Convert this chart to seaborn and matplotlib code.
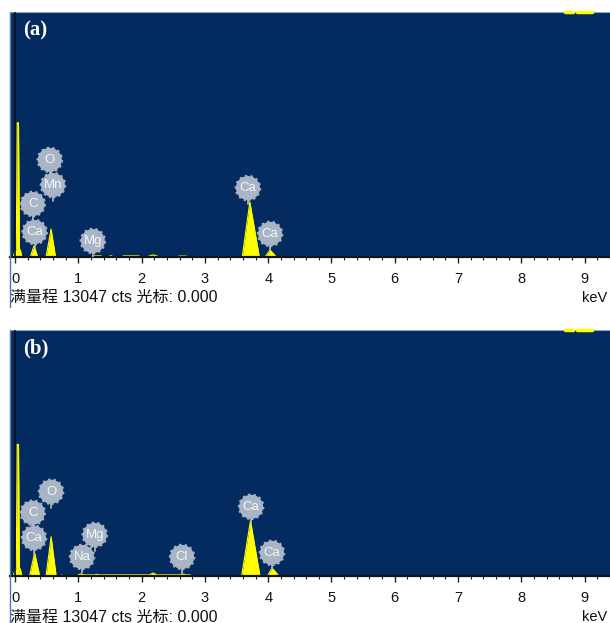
import numpy as np
import pandas as pd
import matplotlib
matplotlib.use("Agg")
import matplotlib.pyplot as plt
import seaborn as sns
from matplotlib.lines import Line2D
from matplotlib.ticker import MultipleLocator

# ==========================
# Spectrum data (keV, cts)
# ==========================

energy_a = [-0.09, -0.03, 0.00, 0.02, 0.035, 0.055, 0.07, 0.09, 0.11,
            0.24, 0.30, 0.36, 0.49, 0.57, 0.64,
            1.22, 1.24, 1.36, 1.38, 1.49, 1.50, 1.53, 1.54,
            1.70, 1.71, 1.96, 1.97, 2.10, 2.12, 2.18, 2.24, 2.26,
            2.58, 2.59, 2.71, 2.72, 3.59, 3.71, 3.86, 3.95, 4.03, 4.13, 9.40]
counts_a = [0, 0, 300, 450, 7150, 7150, 450, 300, 0,
            0, 590, 0, 0, 1490, 0,
            0, 60, 60, 0, 0, 60, 60, 0,
            0, 60, 60, 0, 0, 60, 110, 60, 0,
            0, 50, 50, 0, 0, 2930, 0, 0, 370, 0, 0]

energy_b = [-0.09, -0.03, 0.00, 0.02, 0.035, 0.055, 0.07, 0.09, 0.11,
            0.23, 0.31, 0.39, 0.49, 0.57, 0.65, 0.73, 0.74, 0.75,
            0.98, 1.00, 1.04, 1.08, 1.26, 1.29, 1.32, 2.12, 2.18, 2.24,
            2.60, 2.65, 2.70, 2.77, 2.78, 3.58, 3.72, 3.87, 3.99, 4.06, 4.17, 9.40]
counts_b = [0, 0, 300, 450, 6980, 6980, 450, 300, 0,
            0, 1230, 0, 0, 2080, 0, 0, 60, 0,
            0, 60, 110, 60, 60, 90, 60, 60, 160, 60,
            60, 110, 60, 60, 0, 0, 2930, 0, 0, 430, 0, 0]

# ==========================
# Element labels
# ==========================

labels_a = ["O", "Mn", "C", "Ca", "Mg", "Ca", "Ca"]
label_x_a = [0.55, 0.60, 0.28, 0.31, 1.23, 3.68, 4.03]
label_y_a = [5170, 3830, 2820, 1330, 850, 3670, 1230]

labels_b = ["O", "C", "Ca", "Mg", "Na", "Cl", "Ca", "Ca"]
label_x_b = [0.57, 0.28, 0.30, 1.26, 1.06, 2.64, 3.73, 4.06]
label_y_b = [4470, 3355, 2020, 2180, 1010, 1010, 3670, 1225]

panel_names = ["(a)", "(b)"]
full_scale = 13047
tick_labels = ["0", "1", "2", "3", "4", "5", "6", "7", "8", "9"]
footer = "满量程 13047 cts 光标: 0.000"
top_marks = [(8.69, 8.82), (8.88, 9.12)]

# ==========================
# Style
# ==========================

sns.set_theme(style="white")
plt.rcParams["font.family"] = ["Liberation Sans", "Noto Sans CJK SC", "DejaVu Sans"]

navy = "#032b5f"
yellow = "#ffff00"
bubble = "#a9b4c4"

W, H = 610, 623
fig = plt.figure(figsize=(W / 100, H / 100), dpi=100)

axes_px = [(12, 257), (330, 576)]
left_px = 9.5

panels = [
    (energy_a, counts_a, labels_a, label_x_a, label_y_a),
    (energy_b, counts_b, labels_b, label_x_b, label_y_b),
]

for i, (energy, counts, labels, lx, ly) in enumerate(panels):

    top, bottom = axes_px[i]

    ax = fig.add_axes([
        left_px / W,
        1 - bottom / H,
        1 - left_px / W,
        (bottom - top) / H
    ])

    ax.set_facecolor(navy)

    df = pd.DataFrame({"keV": energy, "cts": counts})

    ax.fill_between(
        df["keV"],
        df["cts"],
        color=yellow,
        linewidth=0
    )

    sns.lineplot(
        data=df,
        x="keV",
        y="cts",
        color=yellow,
        linewidth=0.8,
        ax=ax
    )

    # cursor line
    ax.axvline(0, color="#0b1420", linewidth=1.2, zorder=3)

    # element bubbles
    stem = 850
    for t, x, y in zip(labels, lx, ly):
        ax.plot([x, x], [y, y - stem], color=bubble, linewidth=1.3, zorder=4)

    ax.scatter(
        lx, ly,
        s=300,
        color=bubble,
        edgecolors=bubble,
        linewidths=1.8,
        linestyles=(0, (0.9, 1.3)),
        zorder=5
    )

    for t, x, y in zip(labels, lx, ly):
        ax.text(
            x, y, t,
            color="#f4f6fa",
            fontsize=9.5,
            ha="center",
            va="center",
            zorder=6
        )

    # marks at the top edge
    for x0, x1 in top_marks:
        ax.plot([x0, x1], [full_scale, full_scale], color=yellow,
                linewidth=2.5, clip_on=False, zorder=6)

    ax.set_xlim(-0.087, 9.40)
    ax.set_ylim(0, full_scale)

    ax.set_xticks(range(10))
    ax.set_xticklabels(tick_labels)
    ax.xaxis.set_minor_locator(MultipleLocator(0.2))
    ax.set_yticks([])

    ax.tick_params(
        axis="x",
        which="major",
        direction="out",
        length=4.5,
        width=1,
        color="#222222",
        pad=6,
        labelsize=10.5,
        labelcolor="#111111",
        bottom=True
    )
    ax.tick_params(
        axis="x",
        which="minor",
        direction="out",
        length=2.2,
        width=0.8,
        color="#222222",
        bottom=True
    )

    ax.set_xlabel("")
    ax.set_ylabel("")

    for side in ["left", "right"]:
        ax.spines[side].set_visible(False)
    ax.spines["top"].set_color("#8fa8c8")
    ax.spines["top"].set_linewidth(0.8)
    ax.spines["bottom"].set_color("#151515")
    ax.spines["bottom"].set_linewidth(1.6)

    ax.text(
        0.022, 0.925, panel_names[i],
        transform=ax.transAxes,
        color="white",
        fontsize=15,
        fontweight="bold",
        family="Liberation Serif",
        ha="left",
        va="center"
    )

    ax.text(
        0.0, -0.167, footer,
        transform=ax.transAxes,
        fontsize=11.5,
        color="#111111",
        ha="left",
        va="center"
    )

    ax.text(
        0.996, -0.167, "keV",
        transform=ax.transAxes,
        fontsize=10.5,
        color="#111111",
        ha="right",
        va="center"
    )

    # left frame line running below the panel
    fig.add_artist(Line2D(
        [left_px / W, left_px / W],
        [1 - top / H, 1 - (bottom + 50) / H],
        color="#4f78b0",
        linewidth=1
    ))

plt.savefig("out.png", dpi=100)
plt.close()
